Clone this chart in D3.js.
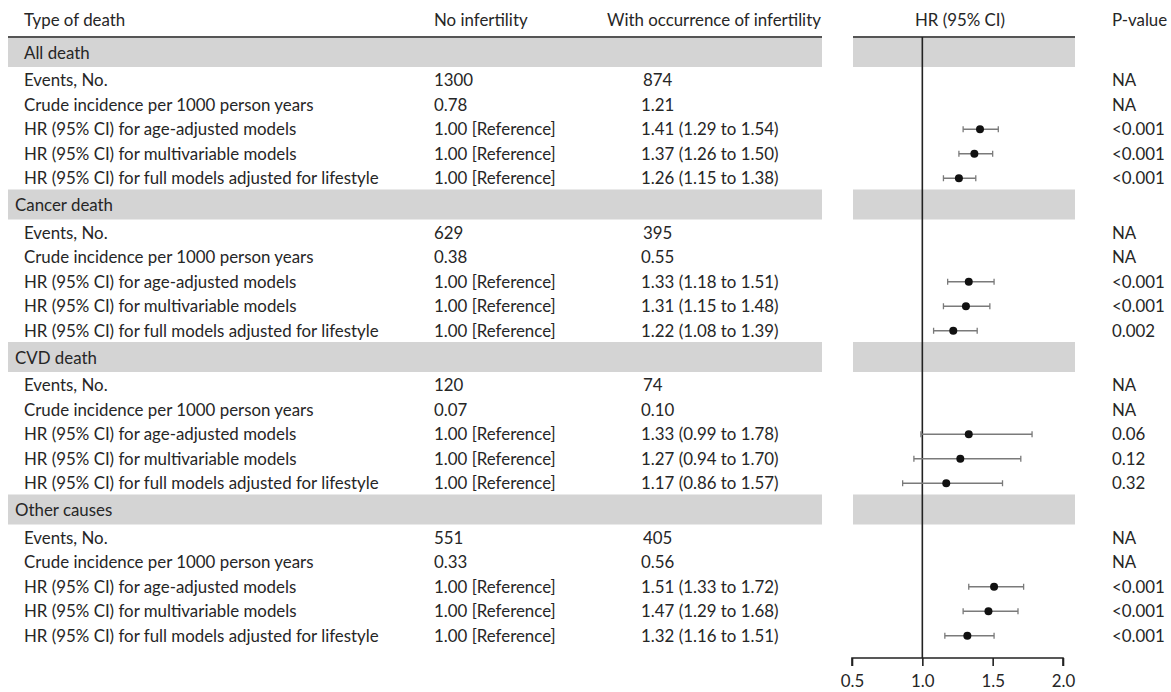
<!DOCTYPE html>
<html>
<head>
<meta charset="utf-8">
<script src="https://cdn.jsdelivr.net/npm/d3@7"></script>
<style>
  html, body { margin: 0; padding: 0; background: #fff; }
  svg { display: block; }
</style>
</head>
<body>
<svg id="chart" width="1171" height="692"></svg>
<script>
// ---------- DATA ----------
const sections = ["All death", "Cancer death", "CVD death", "Other causes"];
const rowLabels = [
  "Events, No.",
  "Crude incidence per 1000 person years",
  "HR (95% CI) for age-adjusted models",
  "HR (95% CI) for multivariable models",
  "HR (95% CI) for full models adjusted for lifestyle"
];
const headers = ["Type of death", "No infertility", "With occurrence of infertility", "HR (95% CI)", "P-value"];

const eventsNo = [1300, 629, 120, 551];
const eventsInf = [874, 395, 74, 405];
const crudeNo = ["0.78", "0.38", "0.07", "0.33"];
const crudeInf = ["1.21", "0.55", "0.10", "0.56"];

// HR estimates for the three models per section: [age-adjusted, multivariable, full]
const hrEst = [[1.41, 1.37, 1.26], [1.33, 1.31, 1.22], [1.33, 1.27, 1.17], [1.51, 1.47, 1.32]];
const hrLow = [[1.29, 1.26, 1.15], [1.18, 1.15, 1.08], [0.99, 0.94, 0.86], [1.33, 1.29, 1.16]];
const hrHigh = [[1.54, 1.50, 1.38], [1.51, 1.48, 1.39], [1.78, 1.70, 1.57], [1.72, 1.68, 1.51]];

const pValues = [
  ["NA", "NA", "<0.001", "<0.001", "<0.001"],
  ["NA", "NA", "<0.001", "<0.001", "0.002"],
  ["NA", "NA", "0.06", "0.12", "0.32"],
  ["NA", "NA", "<0.001", "<0.001", "<0.001"]
];
const referenceLabel = "1.00 [Reference]";
const axisTicks = [0.5, 1.0, 1.5, 2.0];

// ---------- LAYOUT ----------
const svg = d3.select("#chart");
const FONT = "Lato, 'Open Sans', sans-serif";
const textColor = "#262626";
const bandColor = "#d4d4d4";

// fit the font size to the reference text widths (Calibri-like ~18px)
const probe = svg.append("text").attr("font-family", FONT).attr("font-size", 18)
  .text("With occurrence of infertility");
const probeW = probe.node().getComputedTextLength();
probe.remove();
const fs = 18 * 214 / probeW;

const headerY = 20;
const ruleY = 37;
const sectionPeriod = 152.5;
const bandH = 30;
const rowH = 24.5;
const bandTop = s => ruleY + s * sectionPeriod;
const rowY = (s, i) => bandTop(s) + bandH + rowH * (i + 0.5) + 1;

const colX = { label: 24, no: 434, inf: 641, pval: 1112 };
const tableRight = 822;
const panelLeft = 853, panelRight = 1075;

const x = d3.scaleLinear().domain([0.5, 2.0]).range([852, 1063]);
const axisY = 658;

function txt(g, xx, yy, t, anchor) {
  return g.append("text")
    .attr("x", xx).attr("y", yy)
    .attr("dy", "0.35em")
    .attr("text-anchor", anchor || "start")
    .attr("font-family", FONT)
    .attr("font-size", fs)
    .attr("fill", textColor)
    .text(t);
}

// section bands
const bands = svg.append("g");
sections.forEach((s, si) => {
  bands.append("rect").attr("x", 8).attr("y", bandTop(si))
    .attr("width", tableRight - 8).attr("height", bandH).attr("fill", bandColor);
  bands.append("rect").attr("x", panelLeft).attr("y", bandTop(si))
    .attr("width", panelRight - panelLeft).attr("height", bandH).attr("fill", bandColor);
});

// header rules
svg.append("line").attr("x1", 8).attr("x2", tableRight).attr("y1", ruleY).attr("y2", ruleY)
  .attr("stroke", "#555").attr("stroke-width", 2);
svg.append("line").attr("x1", panelLeft).attr("x2", panelRight).attr("y1", ruleY).attr("y2", ruleY)
  .attr("stroke", "#555").attr("stroke-width", 2);

// headers
const hg = svg.append("g");
txt(hg, colX.label, headerY, headers[0]);
txt(hg, colX.no, headerY, headers[1]);
txt(hg, 607, headerY, headers[2]);
txt(hg, 960, headerY, headers[3], "middle");
txt(hg, colX.pval, headerY, headers[4]);

// table text
const tg = svg.append("g");
sections.forEach((s, si) => {
  txt(tg, si === 0 ? 24 : 15, bandTop(si) + bandH / 2 + 1, s);
  rowLabels.forEach((r, ri) => {
    const y = rowY(si, ri);
    txt(tg, colX.label, y, r);
    let noV, infV;
    if (ri === 0) { noV = String(eventsNo[si]); infV = String(eventsInf[si]); }
    else if (ri === 1) { noV = crudeNo[si]; infV = crudeInf[si]; }
    else {
      const m = ri - 2;
      noV = referenceLabel;
      infV = d3.format(".2f")(hrEst[si][m]) + " (" + d3.format(".2f")(hrLow[si][m]) +
        " to " + d3.format(".2f")(hrHigh[si][m]) + ")";
    }
    txt(tg, colX.no, y, noV);
    txt(tg, ri === 0 ? 643 : colX.inf, y, infV);
    txt(tg, colX.pval, y, pValues[si][ri]);
  });
});

// reference line at HR = 1
svg.append("line").attr("x1", x(1)).attr("x2", x(1)).attr("y1", ruleY).attr("y2", axisY)
  .attr("stroke", "#222").attr("stroke-width", 1.6);

// forest marks
const fg = svg.append("g");
sections.forEach((s, si) => {
  hrEst[si].forEach((est, m) => {
    const y = rowY(si, m + 2);
    const lo = hrLow[si][m], hi = hrHigh[si][m];
    fg.append("line").attr("x1", x(lo)).attr("x2", x(hi)).attr("y1", y).attr("y2", y)
      .attr("stroke", "#7a7a7a").attr("stroke-width", 1.5);
    [lo, hi].forEach(v => {
      fg.append("line").attr("x1", x(v)).attr("x2", x(v)).attr("y1", y - 3).attr("y2", y + 3)
        .attr("stroke", "#7a7a7a").attr("stroke-width", 1.3);
    });
    fg.append("circle").attr("cx", x(est)).attr("cy", y).attr("r", 4).attr("fill", "#111");
  });
});

// axis
const axis = d3.axisBottom(x).tickValues(axisTicks).tickFormat(d3.format(".1f"))
  .tickSize(8).tickPadding(9);
const ag = svg.append("g").attr("transform", `translate(0,${axisY})`).call(axis);
ag.select(".domain").attr("stroke", "#222").attr("stroke-width", 1.6)
  .attr("d", `M${x(0.5)},8V0H${x(2.0)}V8`);
ag.selectAll(".tick line").attr("stroke", "#222").attr("stroke-width", 1.6);
ag.selectAll(".tick text").attr("font-family", FONT).attr("font-size", fs)
  .attr("fill", textColor);
</script>
</body>
</html>
